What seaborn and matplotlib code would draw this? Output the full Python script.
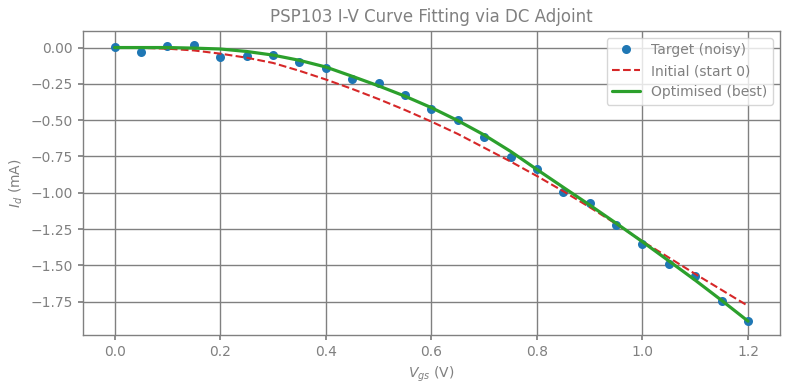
import numpy as np
import pandas as pd
import matplotlib
matplotlib.use("Agg")
import matplotlib.pyplot as plt
import seaborn as sns

vgs = [0.0, 0.05, 0.1, 0.15, 0.2, 0.25, 0.3, 0.35, 0.4, 0.45, 0.5, 0.55,
       0.6, 0.65, 0.7, 0.75, 0.8, 0.85, 0.9, 0.95, 1.0, 1.05, 1.1, 1.15, 1.2]
target = [0.005, -0.03, 0.012, 0.02, -0.065, -0.055, -0.05, -0.10, -0.14,
          -0.217, -0.245, -0.326, -0.424, -0.50, -0.618, -0.757, -0.84,
          -0.993, -1.07, -1.222, -1.354, -1.493, -1.576, -1.743, -1.882]
initial = [0.0, -0.002, -0.008, -0.02, -0.042, -0.07, -0.106, -0.16, -0.22,
           -0.285, -0.355, -0.43, -0.51, -0.595, -0.69, -0.785, -0.885,
           -0.99, -1.10, -1.215, -1.335, -1.447, -1.56, -1.67, -1.78]
optimised = [0.0, 0.0, 0.0, -0.004, -0.01, -0.027, -0.052, -0.088, -0.134,
             -0.198, -0.264, -0.335, -0.414, -0.503, -0.602, -0.715, -0.84,
             -0.963, -1.085, -1.21, -1.338, -1.47, -1.603, -1.742, -1.885]

df = pd.DataFrame({"vgs": vgs, "target": target, "initial": initial, "optimised": optimised})

sns.set_theme(style="whitegrid", rc={
    "axes.edgecolor": "gray",
    "grid.color": "gray",
    "axes.labelcolor": "gray",
    "text.color": "gray",
    "xtick.color": "gray",
    "ytick.color": "gray",
    "xtick.bottom": True,
    "ytick.left": True,
    "xtick.major.size": 3.5,
    "ytick.major.size": 3.5,
    "xtick.labelsize": 10,
    "ytick.labelsize": 10,
    "axes.labelsize": 10,
    "axes.linewidth": 1.0,
    "grid.linewidth": 1.0,
})
plt.rcParams['font.family'] = ['DejaVu Sans']

fig, ax = plt.subplots(figsize=(7.9, 3.9), dpi=100)
sns.lineplot(data=df, x="vgs", y="target", ax=ax, linestyle="none", marker="o",
             markersize=6.5, markeredgewidth=0, color="#1f77b4", label="Target (noisy)")
sns.lineplot(data=df, x="vgs", y="initial", ax=ax, linestyle="--", linewidth=1.5,
             color="#d62728", label="Initial (start 0)")
sns.lineplot(data=df, x="vgs", y="optimised", ax=ax, linewidth=2.3,
             color="#2ca02c", label="Optimised (best)")

ax.set_title("PSP103 I-V Curve Fitting via DC Adjoint", fontsize=12, color="gray")
ax.set_xlabel("$V_{gs}$ (V)")
ax.set_ylabel("$I_d$ (mA)")
ax.set_xticks(np.arange(0, 1.21, 0.2))
ax.set_yticks(np.arange(-1.75, 0.01, 0.25))
ax.legend(loc="upper right", fontsize=10)
fig.subplots_adjust(left=0.105, right=0.987, top=0.921, bottom=0.141)
plt.savefig("out.png")
